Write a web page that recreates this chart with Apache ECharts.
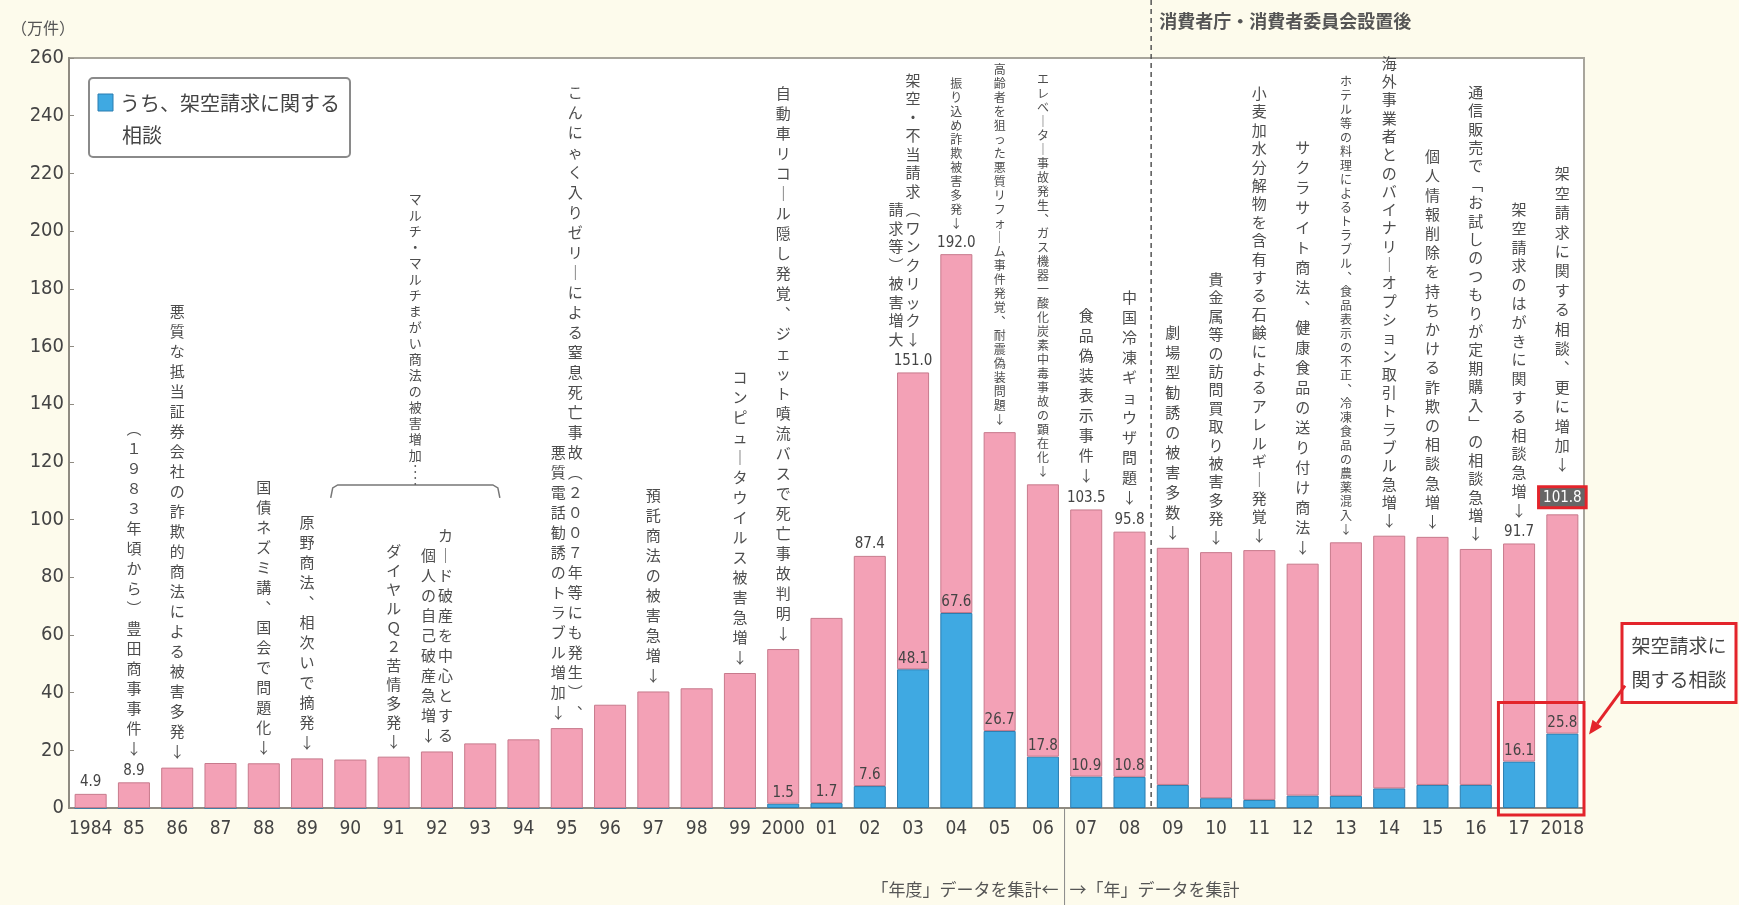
<!DOCTYPE html>
<html><head><meta charset="utf-8">
<script src="https://cdn.jsdelivr.net/npm/echarts@6/dist/echarts.min.js"></script>
<style>html,body{margin:0;padding:0;background:#FDFBEC;} #c{width:1739px;height:905px;}</style>
</head><body><div id="c"></div>
<script>
// ---- data ----
const years = ['1984','85','86','87','88','89','90','91','92','93','94','95','96','97','98','99','2000','01','02','03','04','05','06','07','08','09','10','11','12','13','14','15','16','17','2018'];
const totalConsultations = [4.9,8.9,14.0,15.6,15.5,17.2,16.8,17.8,19.6,22.4,23.8,27.7,35.8,40.4,41.5,46.8,55.1,65.9,87.4,151.0,192.0,130.3,112.2,103.5,95.8,90.2,88.7,89.4,84.7,92.1,94.4,94.0,89.8,91.7,101.8];
const fakeBillingConsultations = [0,0,0,0,0,0,0,0,0,0,0,0,0,0,0,0,1.5,1.7,7.6,48.1,67.6,26.7,17.8,10.9,10.8,8.0,3.4,2.8,4.3,4.2,6.8,8.0,8.0,16.1,25.8];
const totalLabelYears = ['1984','85','02','03','04','07','08','17','2018'];
const fakeLabelYears = ['2000','01','02','03','04','05','06','07','08','17','2018'];
const legendText = ['うち、架空請求に関する','相談'];
const unitLabel = '（万件）';
const topNote = '消費者庁・消費者委員会設置後';
const fiscalNote = '「年度」データを集計←';
const calendarNote = '→「年」データを集計';
const calloutText = ['架空請求に','関する相談'];
const bracketText = 'マルチ・マルチまがい商法の被害増加';
const bracketYears = ['90','93'];
const annotations = [
  {year:'85', cols:['（１９８３年頃から）豊田商事事件↓']},
  {year:'86', cols:['悪質な抵当証券会社の詐欺的商法による被害多発↓']},
  {year:'88', cols:['国債ネズミ講、国会で問題化↓']},
  {year:'89', cols:['原野商法、相次いで摘発↓']},
  {year:'91', cols:['ダイヤルＱ２苦情多発↓']},
  {year:'92', cols:['カード破産を中心とする','個人の自己破産急増↓']},
  {year:'95', cols:['こんにゃく入りゼリーによる窒息死亡事故（２００７年等にも発生）、','悪質電話勧誘のトラブル増加↓']},
  {year:'97', cols:['預託商法の被害急増↓']},
  {year:'99', cols:['コンピュータウイルス被害急増↓']},
  {year:'2000', cols:['自動車リコール隠し発覚、ジェット噴流バスで死亡事故判明↓']},
  {year:'03', cols:['架空・不当請求（ワンクリック↓','請求等）被害増大']},
  {year:'04', cols:['振り込め詐欺被害多発↓']},
  {year:'05', cols:['高齢者を狙った悪質リフォーム事件発覚、耐震偽装問題↓']},
  {year:'06', cols:['エレベーター事故発生、ガス機器一酸化炭素中毒事故の顕在化↓']},
  {year:'07', cols:['食品偽装表示事件↓']},
  {year:'08', cols:['中国冷凍ギョウザ問題↓']},
  {year:'09', cols:['劇場型勧誘の被害多数↓']},
  {year:'10', cols:['貴金属等の訪問買取り被害多発↓']},
  {year:'11', cols:['小麦加水分解物を含有する石鹸によるアレルギー発覚↓']},
  {year:'12', cols:['サクラサイト商法、健康食品の送り付け商法↓']},
  {year:'13', cols:['ホテル等の料理によるトラブル、食品表示の不正、冷凍食品の農薬混入↓']},
  {year:'14', cols:['海外事業者とのバイナリーオプション取引トラブル急増↓']},
  {year:'15', cols:['個人情報削除を持ちかける詐欺の相談急増↓']},
  {year:'16', cols:['通信販売で「お試しのつもりが定期購入」の相談急増↓']},
  {year:'17', cols:['架空請求のはがきに関する相談急増↓']},
  {year:'2018', cols:['架空請求に関する相談、更に増加↓']}
];

// ---- styles ----
const NUM_FONT = "'Liberation Sans Narrow','DejaVu Sans Condensed','Liberation Sans',sans-serif";
const JP_FONT = "'Noto Sans CJK JP','Noto Sans CJK SC',sans-serif";
const PINK = '#F3A1B6', PINK_B = '#C77A8C', BLUE = '#3FA9E2', BLUE_B = '#2B7DB0', RED = '#E3242B';
const TXT = '#4d4d4d', AX = '#8f8b82';
const smallAnn = ['04','05','06','13'];
const annLineHeight = {'10':18.4,'11':18.4,'14':18.3,'16':18.4,'17':18.8,'15':19.2,'2018':19.4,'03':18.5,'91':19};

const chart = echarts.init(document.getElementById('c'));
const pinkPart = totalConsultations.map((t,i)=> +(t - fakeBillingConsultations[i]).toFixed(1));
const pinkData = pinkPart.map((v,i)=> years[i]==='2018' ? {value:v, label:{backgroundColor:'#666', color:'#fff', borderColor:RED, borderWidth:3, padding:[2,3,1,3], distance:8}} : v);
const numLabel = {fontFamily:NUM_FONT, fontSize:15, color:'#444'};

chart.setOption({
  backgroundColor:'#FDFBEC',
  animation:false,
  grid:{left:69,right:155,top:58,bottom:97,show:true,backgroundColor:'#fff',borderColor:'#A8A59C',borderWidth:2},
  xAxis:{type:'category',data:years,
    axisLine:{lineStyle:{color:AX,width:2}},
    axisTick:{inside:true,length:5,lineStyle:{color:AX}},
    axisLabel:{fontFamily:NUM_FONT,fontSize:19,color:'#444',margin:12,interval:0}},
  yAxis:{type:'value',min:0,max:260,interval:20,splitLine:{show:false},
    axisLine:{show:true,lineStyle:{color:AX,width:2}},
    axisTick:{show:true,inside:true,length:5,lineStyle:{color:AX}},
    axisLabel:{fontFamily:NUM_FONT,fontSize:20,color:'#444',margin:5}},
  series:[
    {name:'うち、架空請求に関する相談',type:'bar',stack:'all',barWidth:'74%',data:fakeBillingConsultations,
     itemStyle:{color:BLUE,borderColor:BLUE_B,borderWidth:1},
     label:Object.assign({show:true,position:'top',distance:3,formatter:p=>fakeLabelYears.includes(p.name)?p.value.toFixed(1):''},numLabel)},
    {name:'相談件数',type:'bar',stack:'all',barWidth:'74%',data:pinkData,
     itemStyle:{color:PINK,borderColor:PINK_B,borderWidth:1},
     label:Object.assign({show:true,position:'top',distance:4,formatter:p=>totalLabelYears.includes(p.name)?totalConsultations[p.dataIndex].toFixed(1):''},numLabel)}
  ]
});

// ---- annotations via axis conversion ----
const px = (cat,v)=>chart.convertToPixel({xAxisIndex:0,yAxisIndex:0},[cat,v]);
const cw = px('85',0)[0]-px('1984',0)[0];
const axisY = px('1984',0)[1];
const gridRight = 1739-155, gridTop = 58, gridLeft = 69;
const vmap = {'（':'︵','）':'︶','「':'﹁','」':'﹂','、':'︑','ー':'｜'};
const verticalize = s => Array.from(s).map(c=>vmap[c]||c).join('\n');
const g = [];

annotations.forEach(a=>{
  const i = years.indexOf(a.year);
  const [cx, cy] = px(a.year, totalConsultations[i]);
  const small = smallAnn.includes(a.year);
  const fs = small?12:15, lh = small?14:(annLineHeight[a.year]||20);
  const gap = a.year==='2018' ? 40 : (totalLabelYears.includes(a.year) ? 24 : 6);
  const bottom = cy - gap;
  const n = a.cols.length, sp = 17;
  const arrowIdx = a.cols.findIndex(c=>c.endsWith('↓'));
  a.cols.forEach((col,k)=>{
    const x = (arrowIdx===0 && n>1) ? cx - k*sp : cx + ((n-1)/2 - k)*sp;
    g.push({type:'text',x:x,y:bottom,z:10,style:{text:verticalize(col),fontSize:fs,lineHeight:lh,fontFamily:JP_FONT,fill:TXT,align:'center',verticalAlign:'bottom'}});
  });
});

// bracket for 90-93
(function(){
  const bl = px(bracketYears[0],0)[0]-cw/2+2, br = px(bracketYears[1],0)[0]+cw/2-2;
  const by = px(bracketYears[0],112)[1];
  const bc = (bl+br)/2;
  g.push({type:'polyline',shape:{points:[[bl,by+13],[bl+2,by+3],[bl+7,by],[br-7,by],[br-2,by+3],[br,by+13]]},style:{stroke:'#777',lineWidth:1.5,fill:null}});
  g.push({type:'line',shape:{x1:bc,y1:by,x2:bc,y2:by-20},style:{stroke:'#666',lineWidth:1.5,lineDash:[2,4]}});
  g.push({type:'text',x:bc,y:by-22,style:{text:verticalize(bracketText),fontSize:13,lineHeight:16,fontFamily:JP_FONT,fill:TXT,align:'center',verticalAlign:'bottom'}});
})();

// dashed line: agency established (between 08 and 09)
const dashX = (px('08',0)[0]+px('09',0)[0])/2;
g.push({type:'line',z:20,shape:{x1:dashX,y1:0,x2:dashX,y2:axisY},style:{stroke:'#555',lineWidth:1.5,lineDash:[5,4]}});
g.push({type:'text',x:dashX+8,y:21,style:{text:topNote,fontSize:18,fontWeight:'bold',fontFamily:JP_FONT,fill:'#555',align:'left',verticalAlign:'middle'}});

// solid line: fiscal -> calendar year (between 06 and 07)
const solX = (px('06',0)[0]+px('07',0)[0])/2;
g.push({type:'line',shape:{x1:solX,y1:axisY,x2:solX,y2:905},style:{stroke:'#888',lineWidth:1}});
g.push({type:'text',x:solX-6,y:890,style:{text:fiscalNote,fontSize:17,fontFamily:JP_FONT,fill:'#555',align:'right',verticalAlign:'middle'}});
g.push({type:'text',x:solX+5,y:890,style:{text:calendarNote,fontSize:17,fontFamily:JP_FONT,fill:'#555',align:'left',verticalAlign:'middle'}});

// unit label
g.push({type:'text',x:11,y:28,style:{text:unitLabel,fontSize:16,fontFamily:JP_FONT,fill:'#555',align:'left',verticalAlign:'middle'}});

// legend
g.push({type:'rect',shape:{x:gridLeft+20,y:gridTop+20,width:261,height:79,r:4},style:{fill:'#fff',stroke:'#8a8a8a',lineWidth:2}});
g.push({type:'rect',shape:{x:gridLeft+29,y:gridTop+36,width:15,height:17},style:{fill:BLUE,stroke:BLUE_B,lineWidth:1}});
g.push({type:'text',x:gridLeft+51,y:gridTop+45,style:{text:legendText[0],fontSize:20,fontFamily:JP_FONT,fill:'#444',align:'left',verticalAlign:'middle'}});
g.push({type:'text',x:gridLeft+53,y:gridTop+77,style:{text:legendText[1],fontSize:20,fontFamily:JP_FONT,fill:'#444',align:'left',verticalAlign:'middle'}});

// red highlight box around 17-2018 bottom
const y258 = px('2018',fakeBillingConsultations[34])[1];
const boxL = px('17',0)[0]-cw/2+1;
g.push({type:'rect',z:30,shape:{x:boxL,y:y258-31,width:gridRight-boxL,height:axisY+7-(y258-31)},style:{fill:null,stroke:RED,lineWidth:3}});

// callout
g.push({type:'rect',z:30,shape:{x:gridRight+38,y:y258-110,width:114,height:79},style:{fill:'#fff',stroke:RED,lineWidth:3}});
g.push({type:'text',z:31,x:gridRight+95,y:y258-88,style:{text:calloutText[0],fontSize:19,fontFamily:JP_FONT,fill:'#444',align:'center',verticalAlign:'middle'}});
g.push({type:'text',z:31,x:gridRight+95,y:y258-54,style:{text:calloutText[1],fontSize:19,fontFamily:JP_FONT,fill:'#444',align:'center',verticalAlign:'middle'}});
(function(){
  const sx = gridRight+41, sy = y258-48, tx = gridRight+5, ty = y258+1;
  const dx = tx-sx, dy = ty-sy, L = Math.hypot(dx,dy), ux = dx/L, uy = dy/L;
  const hl = 14, hw = 6;
  const bx = tx-ux*hl, byy = ty-uy*hl;
  g.push({type:'line',z:30,shape:{x1:sx,y1:sy,x2:bx,y2:byy},style:{stroke:RED,lineWidth:3}});
  g.push({type:'polygon',z:30,shape:{points:[[tx,ty],[bx-uy*hw,byy+ux*hw],[bx+uy*hw,byy-ux*hw]]},style:{fill:RED}});
})();

chart.setOption({graphic:g});
</script></body></html>
